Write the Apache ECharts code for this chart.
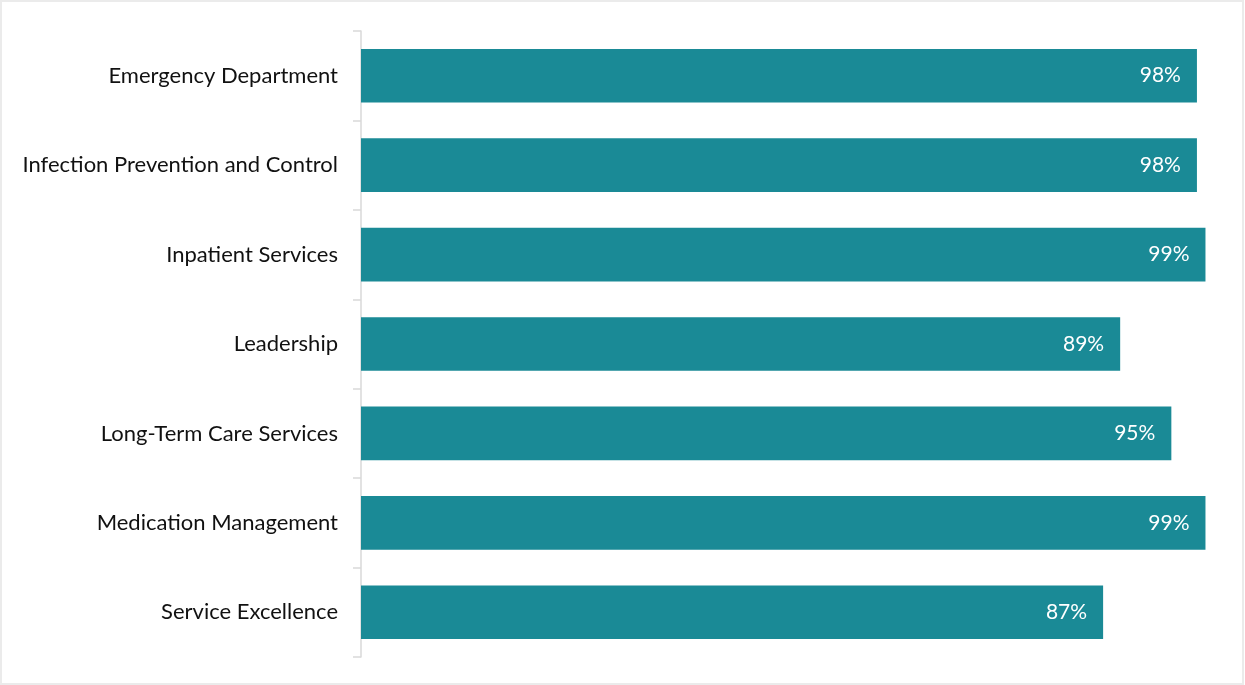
<!DOCTYPE html>
<html>
<head>
<meta charset="utf-8">
<script src="https://cdn.jsdelivr.net/npm/echarts@6/dist/echarts.min.js"></script>
<style>
  html, body { margin: 0; padding: 0; background: #fff; }
  #chart { width: 1245px; height: 685px; }
</style>
</head>
<body>
<div id="chart"></div>
<script>
const categories = [
  "Emergency Department",
  "Infection Prevention and Control",
  "Inpatient Services",
  "Leadership",
  "Long-Term Care Services",
  "Medication Management",
  "Service Excellence"
];
const values = [98, 98, 99, 89, 95, 99, 87];

const chart = echarts.init(document.getElementById('chart'), null, { renderer: 'canvas' });
chart.setOption({
  animation: false,
  backgroundColor: '#ffffff',
  graphic: [{
    type: 'rect',
    shape: { x: 1, y: 1, width: 1242, height: 683 },
    style: { fill: 'none', stroke: '#ebebeb', lineWidth: 2 },
    silent: true
  }],
  grid: { left: 361, right: 31, top: 31, bottom: 28, containLabel: false },
  xAxis: {
    type: 'value',
    min: 0,
    max: 100,
    show: false
  },
  yAxis: {
    type: 'category',
    data: categories,
    inverse: true,
    axisLine: { show: true, lineStyle: { color: '#d9d9d9', width: 1.5 } },
    axisTick: { show: true, length: 8, lineStyle: { color: '#d9d9d9', width: 1.5 } },
    axisLabel: {
      margin: 23,
      fontFamily: 'Lato, "Open Sans", sans-serif',
      fontSize: 22,
      color: '#111111'
    },
    splitLine: { show: false }
  },
  series: [{
    type: 'bar',
    data: values,
    barWidth: '60%',
    itemStyle: { color: '#1a8a96' },
    label: {
      show: true,
      position: 'insideRight',
      distance: 16,
      formatter: p => p.value + '%',
      color: '#ffffff',
      fontFamily: 'Lato, "Open Sans", sans-serif',
      fontSize: 21
    }
  }]
});
</script>
</body>
</html>
